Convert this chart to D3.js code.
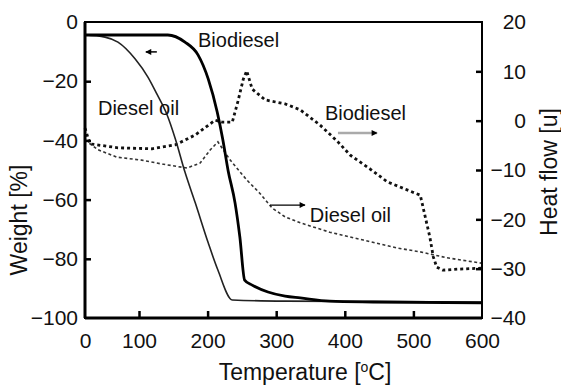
<!DOCTYPE html>
<html>
<head>
<meta charset="utf-8">
<script src="https://cdn.jsdelivr.net/npm/d3@7"></script>
<style>
  body { margin: 0; background: #fff; }
  svg { font-family: "Liberation Sans", Arial, sans-serif; }
</style>
</head>
<body>
<svg id="chart" width="561" height="385"></svg>
<script>
// TG curves (left axis, weight %)
const bioTgTemp   = [0, 142, 167, 186, 201, 214, 222, 230, 240, 247, 254, 265, 288, 313, 335, 378, 441, 600];
const bioTgWeight = [-4.4, -4.4, -6.8, -11.1, -19.3, -30.4, -39.5, -50.3, -61.1, -72.6, -87.2, -88.9, -91.2, -92.6, -93.2, -94.3, -94.6, -94.9];

const dieselTgTemp   = [0, 37, 61, 93, 113, 126, 141, 153, 167, 182, 201, 215, 236, 313, 600];
const dieselTgWeight = [-4.4, -5.1, -6.8, -12.5, -18.6, -24.3, -31.4, -39.5, -50.7, -61.1, -74.7, -83.8, -93.9, -94.3, -94.6];

// DSC curves (right axis, heat flow)
const bioDscTemp = [0, 9, 61, 119, 153, 182, 211, 221, 236, 244, 252, 257, 265, 284, 313, 335, 364, 390, 408, 437, 462, 499, 510, 514, 524, 529, 534, 543, 564, 600];
const bioDscHeat = [-1.5, -4.7, -5.5, -5.7, -4.9, -2.9, 0.1, -0.3, -0.3, 3.8, 8.4, 10.1, 6.4, 4.2, 3.4, 2.2, -0.9, -4.3, -7.0, -9.8, -12.4, -14.5, -15.1, -17.5, -23.6, -27.6, -29.7, -30.3, -30.1, -29.9];

const dieselDscTemp = [0, 24, 59, 104, 134, 170, 189, 204, 215, 233, 257, 276, 294, 313, 335, 378, 427, 476, 510, 549, 600];
const dieselDscHeat = [-3.9, -5.9, -7.4, -8.0, -8.8, -9.6, -8.6, -5.9, -4.3, -8.0, -12.0, -14.7, -17.7, -19.5, -20.7, -22.6, -24.2, -25.8, -26.6, -27.8, -28.9];

// axis ticks
const xTicks = [0, 100, 200, 300, 400, 500, 600];
const wTicks = [0, -20, -40, -60, -80, -100];
const hTicks = [20, 10, 0, -10, -20, -30, -40];

const zip = (xs, ys) => xs.map((x, i) => [x, ys[i]]);

const svg = d3.select("#chart");
const plotL = 85, plotR = 482, plotT = 22, plotB = 318;

// the printed axis is compressed below 100 °C
const x = d3.scaleLinear().domain([0, 100, 600]).range([plotL, 139, plotR]);
const yW = d3.scaleLinear().domain([-100, 0]).range([plotB, plotT]);
const yH = d3.scaleLinear().domain([-40, 20]).range([plotB, plotT]);

const lineW = d3.line().x(d => x(d[0])).y(d => yW(d[1])).curve(d3.curveMonotoneX);
const lineH = d3.line().x(d => x(d[0])).y(d => yH(d[1]));

// arrow marker
svg.append("defs").append("marker")
    .attr("id", "head")
    .attr("viewBox", "0 0 10 10")
    .attr("refX", 9).attr("refY", 5)
    .attr("markerWidth", 7).attr("markerHeight", 6)
    .attr("markerUnits", "userSpaceOnUse")
    .attr("orient", "auto")
  .append("path")
    .attr("d", "M0,0L10,5L0,10Z")
    .attr("fill", "#000");

// curves
svg.append("path").datum(zip(dieselDscTemp, dieselDscHeat))
    .attr("d", lineH).attr("fill", "none")
    .attr("stroke", "#333").attr("stroke-width", 1.6)
    .attr("stroke-dasharray", "3,2.5");

svg.append("path").datum(zip(bioDscTemp, bioDscHeat))
    .attr("d", lineH).attr("fill", "none")
    .attr("stroke", "#111").attr("stroke-width", 2.8)
    .attr("stroke-dasharray", "3,3");

svg.append("path").datum(zip(dieselTgTemp, dieselTgWeight))
    .attr("d", lineW).attr("fill", "none")
    .attr("stroke", "#222").attr("stroke-width", 1.6);

svg.append("path").datum(zip(bioTgTemp, bioTgWeight))
    .attr("d", lineW).attr("fill", "none")
    .attr("stroke", "#000").attr("stroke-width", 2.8);

// frame
svg.append("rect")
    .attr("x", plotL).attr("y", plotT)
    .attr("width", plotR - plotL).attr("height", plotB - plotT)
    .attr("fill", "none").attr("stroke", "#000").attr("stroke-width", 2);
svg.append("line").attr("x1", plotL).attr("x2", plotL).attr("y1", plotT).attr("y2", plotB)
    .attr("stroke", "#000").attr("stroke-width", 3);
svg.append("line").attr("x1", plotL).attr("x2", plotR).attr("y1", plotB).attr("y2", plotB)
    .attr("stroke", "#000").attr("stroke-width", 3);

// axes with inward ticks
const tickFont = "21px";

const xAxis = svg.append("g").attr("transform", `translate(0,${plotB})`)
    .call(d3.axisBottom(x).tickValues(xTicks).tickSize(-7).tickPadding(14));
const wAxis = svg.append("g").attr("transform", `translate(${plotL},0)`)
    .call(d3.axisLeft(yW).tickValues(wTicks).tickSize(-6).tickPadding(7)
        .tickFormat(d => d < 0 ? "\u2212" + (-d) : d));
const hAxis = svg.append("g").attr("transform", `translate(${plotR},0)`)
    .call(d3.axisRight(yH).tickValues(hTicks).tickSize(-6).tickPadding(0)
        .tickFormat(d => d < 0 ? "\u2212" + (-d) : d));

[xAxis, wAxis, hAxis].forEach(g => {
    g.select(".domain").remove();
    g.selectAll(".tick line").attr("stroke", "#000").attr("stroke-width", 2.5);
    g.selectAll(".tick text").attr("font-size", tickFont).attr("fill", "#111")
        .attr("font-family", "Liberation Sans, Arial, sans-serif");
});
xAxis.selectAll(".tick text").attr("dy", "0.75em");
hAxis.selectAll(".tick text").attr("text-anchor", "end").attr("x", 44);
// no tick marks at the frame corners
xAxis.selectAll(".tick line").filter(d => d === 0 || d === 600).remove();
wAxis.selectAll(".tick line").filter(d => d === 0 || d === -100).remove();
hAxis.selectAll(".tick line").filter(d => d === 20 || d === -40).remove();

// axis titles
svg.append("text")
    .attr("x", 305).attr("y", 380)
    .attr("text-anchor", "middle").attr("font-size", 23).attr("fill", "#111")
    .call(t => {
        t.append("tspan").text("Temperature [");
        t.append("tspan").text("o").attr("font-size", 14).attr("dy", -8);
        t.append("tspan").text("C]").attr("dy", 8);
    });

svg.append("text")
    .attr("transform", "translate(27,220) rotate(-90)")
    .attr("text-anchor", "middle").attr("font-size", 23).attr("fill", "#111")
    .text("Weight [%]");

svg.append("text")
    .attr("transform", "translate(557,172) rotate(-90)")
    .attr("text-anchor", "middle").attr("font-size", 23).attr("fill", "#111")
    .text("Heat flow [u]");

// curve annotations
const labelFont = 20;
svg.append("text").attr("x", x(186)).attr("y", yW(-8.4))
    .attr("font-size", labelFont).attr("fill", "#111").text("Biodiesel");
svg.append("line")
    .attr("x1", x(126)).attr("x2", x(110)).attr("y1", yW(-10.1)).attr("y2", yW(-10.1))
    .attr("stroke", "#000").attr("stroke-width", 1.5).attr("marker-end", "url(#head)");

svg.append("text").attr("x", x(24)).attr("y", yW(-31.4))
    .attr("font-size", labelFont).attr("fill", "#111").text("Diesel oil");

svg.append("text").attr("x", x(371)).attr("y", yH(0.1))
    .attr("font-size", labelFont).attr("fill", "#111").text("Biodiesel");
svg.append("line")
    .attr("x1", x(390)).attr("x2", x(447)).attr("y1", yH(-2.5)).attr("y2", yH(-2.5))
    .attr("stroke", "#aaa").attr("stroke-width", 2.5).attr("marker-end", "url(#head)");

svg.append("text").attr("x", x(349)).attr("y", yH(-20.5))
    .attr("font-size", labelFont).attr("fill", "#111").text("Diesel oil");
svg.append("line")
    .attr("x1", x(291)).attr("x2", x(342)).attr("y1", yH(-17.1)).attr("y2", yH(-17.1))
    .attr("stroke", "#000").attr("stroke-width", 1.2).attr("marker-end", "url(#head)");
</script>
</body>
</html>
